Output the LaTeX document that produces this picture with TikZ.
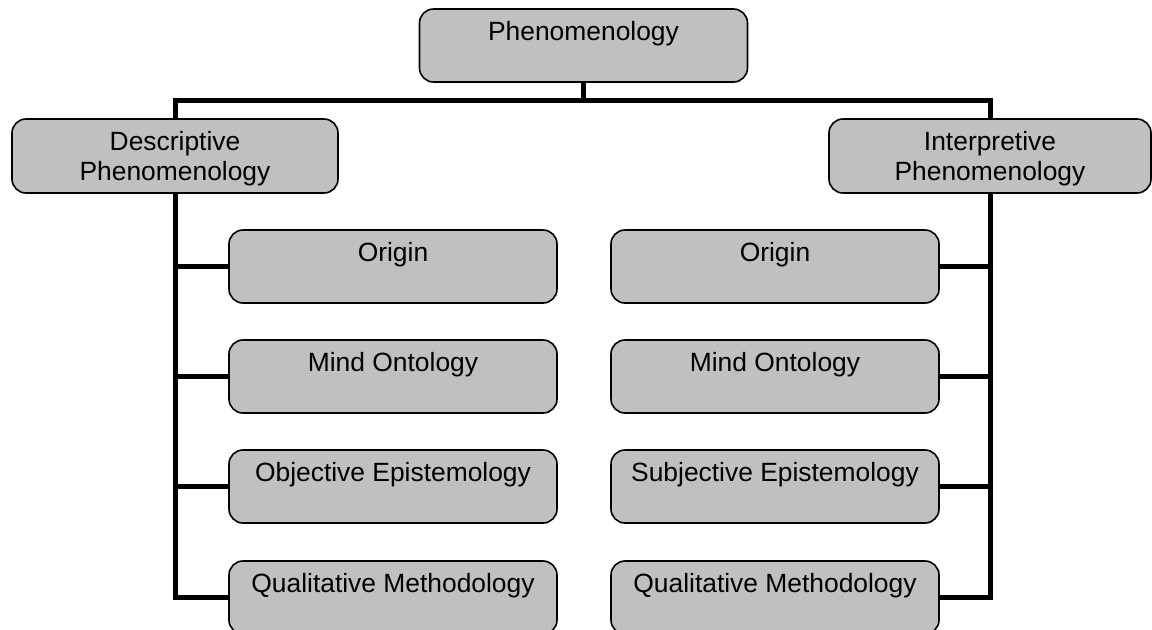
\documentclass[tikz,border=0pt]{standalone}
\usepackage{fontspec}
\setmainfont{Liberation Sans}
\definecolor{boxgray}{HTML}{C0C0C0}
\begin{document}
\begin{tikzpicture}[x=0.5pt,y=-0.5pt,
  box/.style={draw=black, line width=0.8pt, fill=boxgray, rounded corners=7pt,
    minimum width=164pt, minimum height=36.5pt, inner sep=0pt},
  lab/.style={anchor=north, yshift=-6.3pt, inner sep=0pt, align=center,
    font=\fontsize{13.2pt}{15pt}\selectfont},
  conn/.style={draw=black, line width=2.5pt}]
\useasboundingbox (0,0) rectangle (1152,629);
\clip (0,0) rectangle (1152,629);
% main nodes
\node[box, label={[lab]north:Phenomenology}] (top) at (583.5,45.5) {};
\node[box, minimum width=163pt, minimum height=37pt,
  label={[lab]north:Descriptive\\Phenomenology}] (L) at (175,156) {};
\node[box, minimum width=161pt, minimum height=37pt,
  label={[lab]north:Interpretive\\Phenomenology}] (R) at (990,156) {};
% left children
\node[box, label={[lab]north:Origin}] (lo) at (393,266.5) {};
\node[box, label={[lab]north:Mind Ontology}] (lm) at (393,376.5) {};
\node[box, label={[lab]north:Objective Epistemology}] (le) at (393,486.5) {};
\node[box, label={[lab]north:Qualitative Methodology}] (lq) at (393,597.5) {};
% right children
\node[box, label={[lab]north:Origin}] (ro) at (775,266.5) {};
\node[box, label={[lab]north:Mind Ontology}] (rm) at (775,376.5) {};
\node[box, label={[lab]north:Subjective Epistemology}] (re) at (775,486.5) {};
\node[box, label={[lab]north:Qualitative Methodology}] (rq) at (775,597.5) {};
% connectors
\coordinate (j) at (583.5,100);
\draw[conn] (top.south) -- (j);
\draw[conn] (L.north) |- (j) -| (R.north);
\draw[conn] (L.south) |- (lq.west);
\draw[conn] (L.south |- lo.west) -- (lo.west);
\draw[conn] (L.south |- lm.west) -- (lm.west);
\draw[conn] (L.south |- le.west) -- (le.west);
\draw[conn] (R.south) |- (rq.east);
\draw[conn] (R.south |- ro.east) -- (ro.east);
\draw[conn] (R.south |- rm.east) -- (rm.east);
\draw[conn] (R.south |- re.east) -- (re.east);
\end{tikzpicture}
\end{document}
